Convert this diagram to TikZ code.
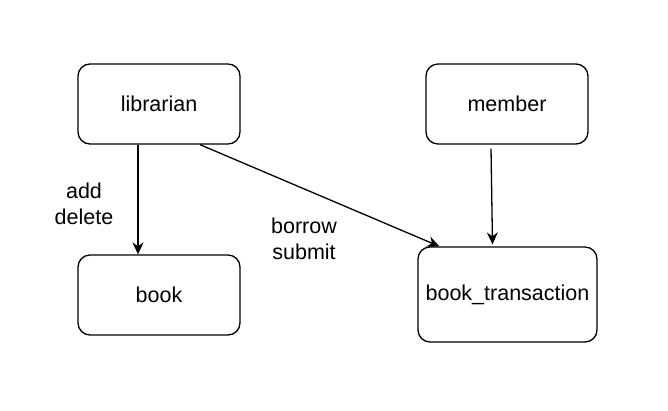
\documentclass[tikz,border=0pt]{standalone}
\usepackage{fontspec}
\setmainfont{Liberation Sans}
\usetikzlibrary{arrows.meta}
\begin{document}
\begin{tikzpicture}[x=1pt,y=-1pt,line width=1.3pt,
	entity/.style={draw,rounded corners=12pt,inner sep=0pt,minimum width=162pt,minimum height=80pt},
	relation/.style={-{Stealth[length=12pt,width=11pt,inset=4pt]}},
	lbl/.style={align=center,inner sep=0pt}]
	\useasboundingbox (0,0) rectangle (668,410);
	\fontsize{21.5}{26}\selectfont
	\node[entity] (librarian) at (159,104)   {librarian};
	\node[entity] (member)    at (507,104)   {member};
	\node[entity] (book)      at (159,295)   {book};
	\node[entity,minimum width=179pt,minimum height=95pt] (booktrans) at (507.5,294.5) {book\_transaction};
	\draw[relation] ([xshift=-21pt]librarian.south) -- ([xshift=-21pt]book.north);
	\draw[relation] ([xshift=41pt]librarian.south) -- ([xshift=22pt]booktrans.north west);
	\draw[relation] ([xshift=-16pt,yshift=-4pt]member.south) -- ([xshift=-15pt,yshift=2pt]booktrans.north);
	\node[lbl] (addlbl)    at (84,204)  {add\\delete};
	\node[lbl] (borrowlbl) at (304,239) {borrow\\submit};
\end{tikzpicture}
\end{document}
